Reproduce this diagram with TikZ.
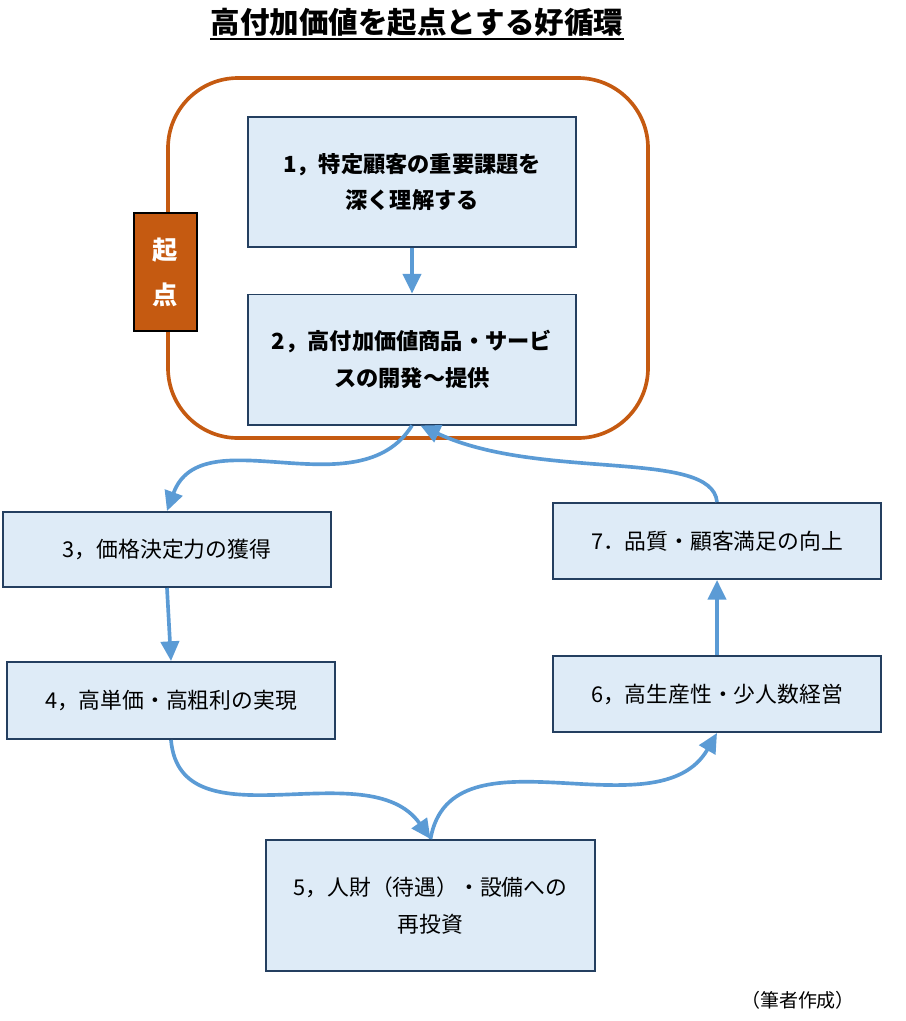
\documentclass[tikz,border=0pt]{standalone}
\usepackage{fontspec}
\setmainfont{Noto Sans CJK JP}
\usetikzlibrary{arrows.meta}
\definecolor{boxfill}{HTML}{DEEBF7}
\definecolor{boxline}{HTML}{243F60}
\definecolor{startorange}{HTML}{C55A11}
\definecolor{flowblue}{HTML}{5B9BD5}
\begin{document}
\begin{tikzpicture}[x=0.025cm,y=-0.025cm]
\tikzstyle{box_style} = [draw=boxline, line width=1.4pt, fill=boxfill, minimum width=8.2cm, align=center, inner sep=0pt, font=\fontsize{15.5}{26}\selectfont]
\tikzstyle{key_style} = [box_style, minimum height=3.25cm, font=\fontsize{15.8}{26}\selectfont\bfseries]
\tikzstyle{step_style} = [box_style, minimum height=1.9cm]
\tikzstyle{edge_style} = [flowblue, line width=2.6pt, -{Triangle[length=14pt,width=13pt]}]
    \useasboundingbox (0,0) rectangle (906,1021);

    \node[anchor=base, font=\fontsize{21}{25}\selectfont\bfseries, inner sep=0pt] (title) at (417,33) {高付加価値を起点とする好循環};
    \draw[line width=1.4pt] ([yshift=-4.5pt]title.base west) -- ([yshift=-4.5pt]title.base east);

    \draw[startorange, line width=2.6pt, rounded corners=1.75cm] (168,78) rectangle (648,438);

    \node[key_style] (b1) at (412,182) {1，特定顧客の重要課題を\\深く理解する};
    \node[key_style] (b2) at (412,359.5) {2，高付加価値商品・サービ\\スの開発～提供};
    \node[draw=black, line width=1.4pt, fill=startorange, text=white, minimum width=1.575cm, minimum height=2.95cm, align=center, inner sep=0pt, font=\fontsize{18}{32}\selectfont\bfseries] (start) at (165.5,272) {起\\点};

    \node[step_style, minimum height=1.875cm] (b3) at (167,549.5) {3，価格決定力の獲得};
    \node[step_style, minimum height=1.925cm] (b4) at (171,700.5) {4，高単価・高粗利の実現};
    \node[box_style, minimum height=3.275cm] (b5) at (430.5,905.5) {5，人財（待遇）・設備への\\再投資};
    \node[step_style] (b6) at (717,694) {6，高生産性・少人数経営};
    \node[step_style] (b7) at (717,541) {7．品質・顧客満足の向上};

    \node[font=\fontsize{13.5}{16}\selectfont] (note) at (798,1000) {（筆者作成）};

    \draw[edge_style] (b1.south) -- (b2.north);
    \draw[edge_style] (b2.south) to[out=-122, in=70] (b3.north);
    \draw[edge_style] (b3.south) -- (b4.north);
    \draw[edge_style] (b4.south) to[out=-85, in=125] (b5.north);
    \draw[edge_style] (b5.north) to[out=80, in=-120] (b6.south);
    \draw[edge_style] (b6.north) -- (b7.south);
    \draw[edge_style] (b7.north) to[out=95, in=-25, out looseness=0.45, in looseness=1.1] ([xshift=6pt]b2.south);
\end{tikzpicture}
\end{document}
